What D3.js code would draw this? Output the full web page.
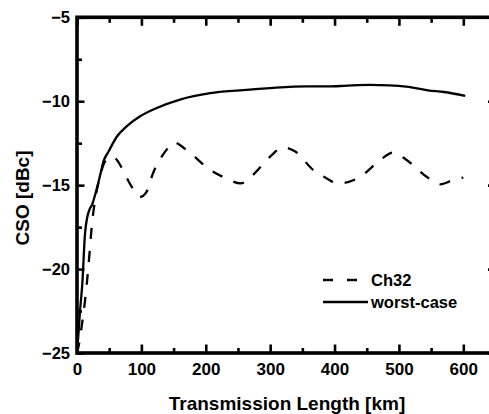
<!DOCTYPE html>
<html lang="en">
<head>
<meta charset="utf-8" />
<title>CSO vs transmission length</title>
<style>
  body{margin:0;background:#fff;}
  svg{display:block;font-family:"Liberation Sans",Arial,Helvetica,sans-serif;font-weight:bold;}
  .tick text{font-size:16.5px;fill:#000;}
  .x-ticks .tick text{font-size:17px;}
  .axis-title{font-size:19px;fill:#000;}
  .legend text{font-size:16.5px;fill:#000;}
</style>
<script src="https://cdn.jsdelivr.net/npm/d3@7.9.0/dist/d3.min.js"></script>
</head>
<body>
<div id="chart"></div>
<script>
/* ───────── DATA ───────── */
const worstKm = [0, 2, 4.7, 8.2, 12.4, 16, 20, 23, 28, 36, 41, 49, 62, 77, 98, 124, 160, 207, 253, 305, 357, 390, 420, 455, 485, 515, 545, 570, 603];
const worstDb = [-25, -24, -22.5, -20.9, -17.9, -16.9, -16.4, -16.2, -15.6, -14.4, -13.6, -13.0, -12.1, -11.5, -10.9, -10.4, -9.9, -9.52, -9.35, -9.2, -9.12, -9.12, -9.07, -9.03, -9.05, -9.15, -9.35, -9.45, -9.68];

const ch32Km = [0, 3, 7.3, 12.4, 17.6, 20.2, 22.8, 28, 35, 42, 48, 55, 62, 70, 82, 98, 108, 118, 139, 150, 170, 207, 232, 254, 273, 300, 320, 339, 367, 388, 405, 440, 471, 491, 512, 543, 564, 584, 600];
const ch32Db = [-25, -24.5, -23.4, -21.9, -19.9, -18.7, -17.5, -15.9, -14.6, -13.7, -13.4, -13.3, -13.5, -14.0, -14.9, -15.7, -15.4, -14.3, -12.9, -12.45, -12.9, -14.1, -14.6, -14.9, -14.4, -13.3, -12.75, -13.0, -14.1, -14.6, -14.9, -14.5, -13.5, -13.05, -13.5, -14.5, -14.95, -14.7, -14.55];

const seriesNames = ['Ch32', 'worst-case'];
const xTicks = [0, 100, 200, 300, 400, 500, 600];
const yTicks = [-25, -20, -15, -10, -5];

/* ───────── LAYOUT ───────── */
const W = 489, H = 414;
const x = d3.scaleLinear([0, 650], [77, 495.5]);
const y = d3.scaleLinear([-25, -5], [353, 17.3]);

const svg = d3.select('#chart').append('svg')
  .attr('width', W).attr('height', H).attr('viewBox', [0, 0, W, H]);

svg.append('defs').append('clipPath').attr('id', 'plotClip')
  .append('rect').attr('x', x(0)).attr('y', y(-5))
  .attr('width', x(650) - x(0)).attr('height', y(-25) - y(-5));

/* axes – ticks point inward on all four sides */
function styleAxis(g){
  g.select('.domain').remove();
  g.selectAll('.tick line').attr('stroke', '#000').attr('stroke-width', 2.6);
}

// bottom
svg.append('g').attr('class', 'x-ticks').attr('transform', `translate(0,${y(-25)})`)
  .call(d3.axisBottom(x).tickValues(xTicks).tickSizeInner(-8.5).tickSizeOuter(0).tickPadding(10).tickFormat(d3.format('d')))
  .call(styleAxis);
svg.append('g').attr('transform', `translate(0,${y(-25)})`)
  .call(d3.axisBottom(x).tickValues(d3.range(50, 650, 100)).tickSizeInner(-5).tickSizeOuter(0).tickFormat(''))
  .call(styleAxis);
// top
svg.append('g').attr('transform', `translate(0,${y(-5)})`)
  .call(d3.axisTop(x).tickValues(xTicks).tickSizeInner(-8.5).tickSizeOuter(0).tickFormat(''))
  .call(styleAxis);
svg.append('g').attr('transform', `translate(0,${y(-5)})`)
  .call(d3.axisTop(x).tickValues(d3.range(50, 650, 100)).tickSizeInner(-5.5).tickSizeOuter(0).tickFormat(''))
  .call(styleAxis);
// left
svg.append('g').attr('transform', `translate(${x(0)},0)`)
  .call(d3.axisLeft(y).tickValues(yTicks).tickSizeInner(-7.5).tickSizeOuter(0).tickPadding(7).tickFormat(d3.format('d')))
  .call(styleAxis);
svg.append('g').attr('transform', `translate(${x(0)},0)`)
  .call(d3.axisLeft(y).tickValues(d3.range(-22.5, -5, 5)).tickSizeInner(-5).tickSizeOuter(0).tickFormat(''))
  .call(styleAxis);
// right (the axis line itself falls just outside the picture)
svg.append('g').attr('transform', `translate(${x(650)},0)`)
  .call(d3.axisRight(y).tickValues(yTicks).tickSizeInner(-7.5).tickSizeOuter(0).tickFormat(''))
  .call(styleAxis);
svg.append('g').attr('transform', `translate(${x(650)},0)`)
  .call(d3.axisRight(y).tickValues(d3.range(-22.5, -5, 5)).tickSizeInner(-5).tickSizeOuter(0).tickFormat(''))
  .call(styleAxis);

svg.selectAll('.tick text').attr('fill', '#000');

/* frame */
svg.append('rect')
  .attr('x', x(0)).attr('y', y(-5))
  .attr('width', x(650) - x(0)).attr('height', y(-25) - y(-5))
  .attr('fill', 'none').attr('stroke', '#000').attr('stroke-width', 3.6);

/* curves */
const line = d3.line().x(d => x(d[0])).y(d => y(d[1])).curve(d3.curveMonotoneX);
const plot = svg.append('g').attr('clip-path', 'url(#plotClip)');

plot.append('path')
  .datum(d3.zip(worstKm, worstDb))
  .attr('fill', 'none').attr('stroke', '#000').attr('stroke-width', 2.3)
  .attr('d', line);

plot.append('path')
  .datum(d3.zip(ch32Km, ch32Db))
  .attr('fill', 'none').attr('stroke', '#000').attr('stroke-width', 2.3)
  .attr('stroke-dasharray', '11,12')
  .attr('d', line);

/* legend */
const legend = svg.append('g').attr('class', 'legend');
const legRows = [
  {name: seriesNames[0], dash: '10,14', ly: 280},
  {name: seriesNames[1], dash: null, ly: 302}
];
legRows.forEach(r => {
  legend.append('line')
    .attr('x1', 323).attr('x2', r.dash ? 357 : 368)
    .attr('y1', r.ly).attr('y2', r.ly)
    .attr('stroke', '#000').attr('stroke-width', 2.3)
    .attr('stroke-dasharray', r.dash);
  legend.append('text')
    .attr('x', 371).attr('y', r.ly).attr('dy', '0.35em')
    .text(r.name);
});

/* axis titles */
svg.append('text').attr('class', 'axis-title')
  .attr('x', 287).attr('y', 410).attr('text-anchor', 'middle')
  .text('Transmission Length [km]');
svg.append('text').attr('class', 'axis-title')
  .attr('transform', 'translate(29,198) rotate(-90)').attr('text-anchor', 'middle')
  .text('CSO [dBc]');
</script>
</body>
</html>
